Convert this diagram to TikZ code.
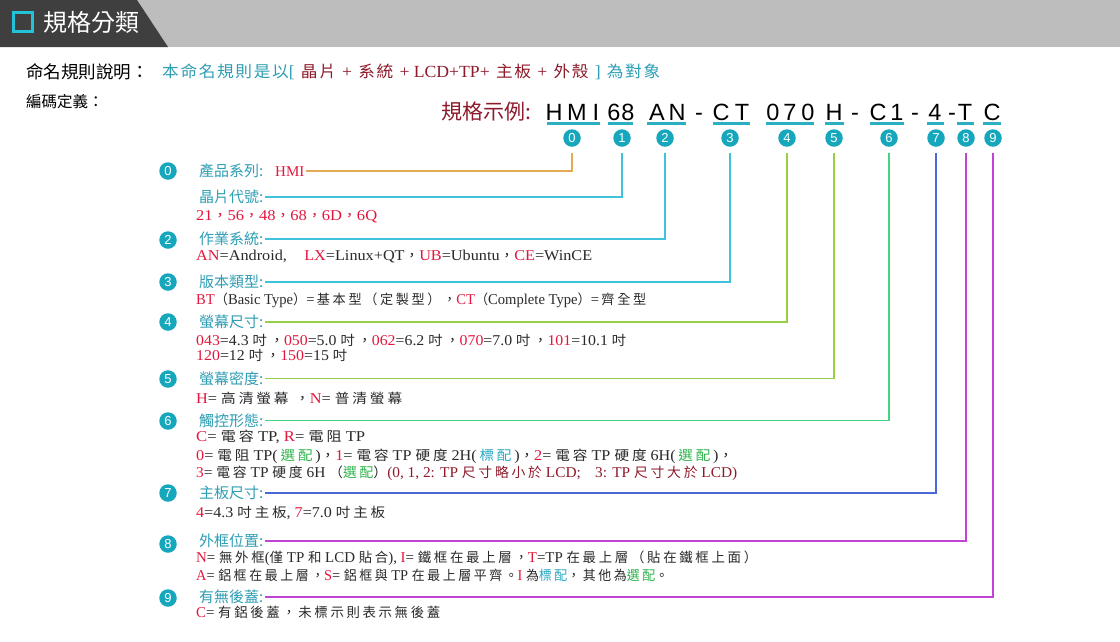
\documentclass[tikz,border=0pt]{standalone}
\usepackage{fontspec}
\setmainfont{Liberation Serif}
\newfontfamily\zh{Noto Sans CJK TC}
\newfontfamily\zhd[LetterSpace=20]{Noto Sans CJK TC}
\newfontfamily\zhi[LetterSpace=10]{Noto Sans CJK TC}
\newfontfamily\hv{Liberation Sans}
\definecolor{hdrgray}{HTML}{BDBDBD}
\definecolor{hdrdark}{HTML}{3F3F3F}
\definecolor{sqc}{HTML}{22C3D6}
\definecolor{labc}{HTML}{2E9EB4}
\definecolor{codered}{HTML}{E3173E}
\definecolor{darkred}{HTML}{8E1B2B}
\definecolor{selgreen}{HTML}{2DB24A}
\definecolor{stdteal}{HTML}{2AA8C4}
\definecolor{circc}{HTML}{17A7BD}
\definecolor{barc}{HTML}{2AAFC3}
\definecolor{txt}{HTML}{2A2A2A}
\definecolor{lnorange}{HTML}{E3AA55}
\definecolor{lncyan}{HTML}{3EC3DA}
\definecolor{lnyellow}{HTML}{95D145}
\definecolor{lngreen}{HTML}{45D483}
\definecolor{lnblue}{HTML}{4A68D6}
\definecolor{lnmagenta}{HTML}{C043D3}
\newcommand\fs[1]{\fontsize{#1}{#1}\selectfont}
\newcommand\Z[1]{{\zhd\fs{13.5}#1}}
\newcommand\Rd[1]{\textcolor{codered}{#1}}
\newcommand\Gs[1]{\textcolor{selgreen}{\Z{#1}}}
\newcommand\Ts[1]{\textcolor{stdteal}{\Z{#1}}}
\newcommand\I[1]{{\zhi\fs{16}#1}}
\newcommand\W[2]{\resizebox{#1pt}{\height}{#2}}
\tikzset{
  badge/.style={circle, fill=circc, text=white, minimum size=17.5pt, inner sep=0pt, font=\hv\fs{13}},
  codech/.style={anchor=base, inner sep=0pt, font=\hv\fs{23.5}, text=black},
  lab/.style={anchor=west, inner sep=0pt, outer sep=2pt, font=\zh\fs{15}, text=labc},
  desc/.style={anchor=west, inner sep=0pt, font=\fs{15}, text=txt},
  bar/.style={draw=barc, line width=3pt},
  ln/.style={line width=1.6pt},
}
\begin{document}
\begin{tikzpicture}[x=1pt,y=-1pt]
\fill[white] (0,0) rectangle (1120,641);
\useasboundingbox (0,0) rectangle (1120,641);
% header
\fill[hdrgray] (0,0) rectangle (1120,47);
\fill[hdrdark] (0,0) -- (137,0) -- (168,47) -- (0,47) -- cycle;
\draw[sqc, line width=2.5pt] (13.5,12.5) rectangle (32.5,31.5);
\node[anchor=west, text=white, font=\zh\fs{24}, inner sep=0pt] (title) at (43,22) {規格分類};
% intro
\node[anchor=west, inner sep=0pt, font=\zh\fs{17.5}, text=black] (intro) at (26,72) {命名規則說明：};
\node[anchor=west, inner sep=0pt, font=\fs{17}, text=labc] (introtxt) at (162,72) {\W{498}{\I{本命名規則是以}[\hspace{6pt}\textcolor{darkred}{\I{晶片}\hspace{6pt}+\hspace{6pt}\I{系統}\hspace{6pt}+\hspace{4pt}LCD+TP+\hspace{6pt}\I{主板}\hspace{6pt}+\hspace{6pt}\I{外殼}}\hspace{6pt}]\hspace{6pt}\I{為對象}}};
\node[anchor=west, inner sep=0pt, font=\zh\fs{15.5}, text=black] (def) at (26,102) {編碼定義：};
% example code
\node[anchor=west, inner sep=0pt, font=\zh\fs{21}, text=darkred] (ex) at (441,112) {規格示例:};
\foreach \x/\c [count=\i] in {554/H,577/M,596/I,614/6,628/8,657/A,677/N,699/-,721/C,742/T,773/0,790/7,808/0,834/H,855/-,878/C,897/1,915/-,935/4,952/-,965/T,992/C}
  \node[codech] (ch\i) at (\x,120) {\c};
\foreach \a/\b in {547/600,608/633,647/686,713/750,766/814,825/844,870/904,927/944,957/974,983/1001}
  \draw[bar] (\a,123.5) -- (\b,123.5);
\foreach \x [count=\i from 0] in {572,622,665,730,787,834,889,936,966,993}{
  \node[badge] (n\i) at (\x,138) {\i};
  \coordinate (t\i) at (\x,153);
}
% list badges
\node[badge] (b0) at (168,171) {0};
\node[badge] (b2) at (168,240) {2};
\node[badge] (b3) at (168,282) {3};
\node[badge] (b4) at (168,322) {4};
\node[badge] (b5) at (168,379) {5};
\node[badge] (b6) at (168,421) {6};
\node[badge] (b7) at (168,493) {7};
\node[badge] (b8) at (168,544) {8};
\node[badge] (b9) at (168,598) {9};
% labels
\node[lab] (l0) at (197,171) {產品系列:\hspace{12pt}{\rmfamily\fs{15}\textcolor{codered}{HMI}}};
\node[lab] (l1) at (197,197) {晶片代號:};
\node[lab] (l2) at (197,239) {作業系統:};
\node[lab] (l3) at (197,282) {版本類型:};
\node[lab] (l4) at (197,322) {螢幕尺寸:};
\node[lab] (l5) at (197,378.5) {螢幕密度:};
\node[lab] (l6) at (197,420.5) {觸控形態:};
\node[lab] (l7) at (197,493) {主板尺寸:};
\node[lab] (l8) at (197,541) {外框位置:};
\node[lab] (l9) at (197,597) {有無後蓋:};
% connectors
\draw[ln, draw=lnorange] (l0.east) -| (t0);
\draw[ln, draw=lncyan] (l1.east) -| (t1);
\draw[ln, draw=lncyan] (l2.east) -| (t2);
\draw[ln, draw=lncyan] (l3.east) -| (t3);
\draw[ln, draw=lnyellow] (l4.east) -| (t4);
\draw[ln, draw=lnyellow] (l5.east) -| (t5);
\draw[ln, draw=lngreen] (l6.east) -| (t6);
\draw[ln, draw=lnblue] (l7.east) -| (t7);
\draw[ln, draw=lnmagenta] (l8.east) -| (t8);
\draw[ln, draw=lnmagenta] (l9.east) -| (t9);
% descriptions
\node[desc] (d1) at (196,217) {\W{181}{\textcolor{codered}{21\Z{，}56\Z{，}48\Z{，}68\Z{，}6D\Z{，}6Q}}};
\node[desc] (d2) at (196,257) {\W{396}{\Rd{AN}=Android,\hspace{16pt}\Rd{LX}=Linux+QT\Z{，}\Rd{UB}=Ubuntu\Z{，}\Rd{CE}=WinCE}};
\node[desc] (d3) at (196,300) {\W{450}{\Rd{BT}\Z{（}Basic Type\Z{）}=\,\Z{基本型（定製型），}\Rd{CT}\Z{（}Complete Type\Z{）}=\,\Z{齊全型}}};
\node[desc] (d4a) at (196,340) {\W{430}{\Rd{043}=4.3 \Z{吋，}\Rd{050}=5.0 \Z{吋，}\Rd{062}=6.2 \Z{吋，}\Rd{070}=7.0 \Z{吋，}\Rd{101}=10.1 \Z{吋}}};
\node[desc] (d4b) at (196,355) {\W{151}{\Rd{120}=12 \Z{吋，}\Rd{150}=15 \Z{吋}}};
\node[desc] (d5) at (196,398) {\W{206}{\Rd{H}= \Z{高清螢幕}\hspace{6pt}\Z{，}\Rd{N}= \Z{普清螢幕}}};
\node[desc] (d6a) at (196,437) {\W{169}{\Rd{C}= \Z{電容} TP, \Rd{R}= \Z{電阻} TP}};
\node[desc] (d6b) at (196,456) {\W{537}{\Rd{0}= \Z{電阻} TP(\,\Gs{選配}\,)\Z{，}\Rd{1}= \Z{電容} TP \Z{硬度} 2H(\,\Ts{標配}\,)\Z{，}\Rd{2}= \Z{電容} TP \Z{硬度} 6H(\,\Gs{選配}\,)\Z{，}}};
\node[desc] (d6c) at (196,473) {\W{541}{\Rd{3}= \Z{電容} TP \Z{硬度} 6H \Z{（}\Gs{選配}\Z{）}\textcolor{darkred}{(0, 1, 2: TP \Z{尺寸略小於} LCD;\hspace{14pt}3: TP \Z{尺寸大於} LCD)}}};
\node[desc] (d7) at (196,513) {\W{189}{\Rd{4}=4.3 \Z{吋主板}, \Rd{7}=7.0 \Z{吋主板}}};
\node[desc] (d8a) at (196,558) {\W{561}{\Rd{N}= \Z{無外框}(\Z{僅} TP \Z{和} LCD \Z{貼合}), \Rd{I}= \Z{鐵框在最上層，}\Rd{T}=TP \Z{在最上層（貼在鐵框上面）}}};
\node[desc] (d8b) at (196,575) {\W{472}{\Rd{A}= \Z{鋁框在最上層，}\Rd{S}= \Z{鋁框與} TP \Z{在最上層平齊。}\Rd{I} \Z{為}\Ts{標配}\Z{，其他為}\Gs{選配}\Z{。}}};
\node[desc] (d9) at (196,612) {\W{244}{\Rd{C}= \Z{有鋁後蓋，未標示則表示無後蓋}}};
\end{tikzpicture}
\end{document}
